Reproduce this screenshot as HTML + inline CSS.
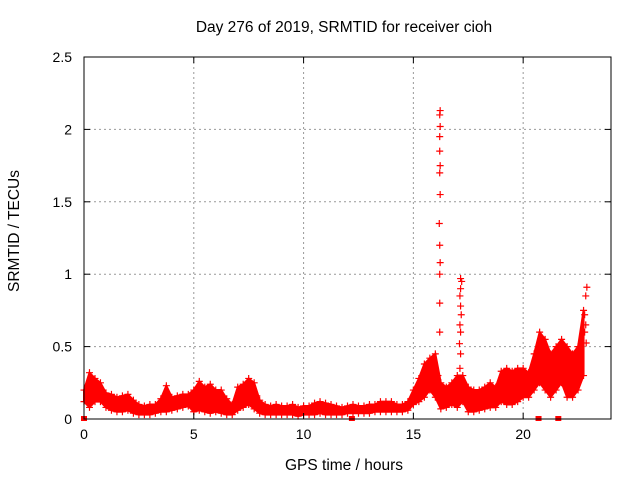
<!DOCTYPE html>
<html><head><meta charset="utf-8"><style>
body{margin:0;background:#fff}
svg{display:block;font-family:"Liberation Sans",sans-serif}
</style></head><body>
<svg id="c" width="640" height="480" viewBox="0 0 640 480">
<text x="344" y="32" font-size="15.5" text-anchor="middle">Day 276 of 2019, SRMTID for receiver cioh</text>
<text x="344" y="470" font-size="15.5" text-anchor="middle">GPS time / hours</text>
<text transform="translate(19,231) rotate(-90)" font-size="15.5" text-anchor="middle">SRMTID / TECUs</text>
<g id="grid"></g><g id="marks"></g><g id="axes"></g>
</svg>
<script>
const hourStart = 0, hourStep = 0.25;
const lo = [0.12,0.08,0.12,0.12,0.08,0.06,0.05,0.05,0.06,0.04,0.03,0.03,0.03,0.04,0.05,0.05,0.06,0.07,0.08,0.09,0.05,0.06,0.05,0.04,0.05,0.04,0.03,0.03,0.06,0.08,0.1,0.07,0.04,0.03,0.03,0.03,0.03,0.03,0.03,0.02,0.03,0.03,0.03,0.04,0.03,0.03,0.03,0.03,0.04,0.04,0.04,0.04,0.04,0.05,0.05,0.05,0.05,0.05,0.05,0.06,0.1,0.12,0.15,0.2,0.15,0.07,0.08,0.1,0.08,0.12,0.05,0.05,0.06,0.07,0.08,0.08,0.12,0.1,0.1,0.12,0.15,0.15,0.2,0.25,0.2,0.15,0.2,0.25,0.15,0.15,0.2,0.3];
const hi = [0.2,0.32,0.28,0.25,0.18,0.17,0.15,0.16,0.17,0.13,0.1,0.09,0.1,0.1,0.14,0.23,0.15,0.16,0.17,0.17,0.2,0.26,0.22,0.24,0.2,0.2,0.14,0.1,0.22,0.24,0.28,0.25,0.13,0.1,0.09,0.1,0.09,0.09,0.1,0.08,0.09,0.09,0.11,0.12,0.11,0.1,0.09,0.08,0.09,0.1,0.09,0.09,0.1,0.1,0.12,0.12,0.12,0.1,0.1,0.12,0.2,0.28,0.38,0.42,0.45,0.25,0.22,0.25,0.3,0.3,0.22,0.2,0.2,0.22,0.25,0.22,0.33,0.35,0.33,0.35,0.35,0.32,0.45,0.6,0.55,0.45,0.5,0.55,0.5,0.45,0.5,0.75];
const spikeX = [16.2,16.2,16.2,16.22,16.2,16.18,16.22,16.2,16.22,16.2,16.2,16.22,16.2,16.22,17.12,17.15,17.1,17.15,17.12,17.18,17.15,17.12,17.15,17.2,17.15,22.8,22.85,22.8,22.85,22.9];
const spikeY = [0.6,0.8,1.0,1.08,1.2,1.35,1.55,1.7,1.75,1.85,1.95,2.02,2.1,2.13,0.35,0.45,0.52,0.6,0.65,0.72,0.78,0.85,0.9,0.95,0.97,0.6,0.65,0.72,0.85,0.91];
const zeroX = [0,12.2,20.7,21.6];
const xTicks = [0,5,10,15,20];
const yTicks = [0,0.5,1,1.5,2,2.5];
const yTickLabels = ["0","0.5","1","1.5","2","2.5"];

const L=84,R=611,T=57,B=419;
const sx=h=>L+h*(R-L)/24, sy=v=>B-v*(B-T)/2.5;
const NS="http://www.w3.org/2000/svg";
function mk(tag,parent,attrs){const e=document.createElementNS(NS,tag);for(const k in attrs)e.setAttribute(k,attrs[k]);parent.appendChild(e);return e;}
const grid=document.getElementById('grid'),marks=document.getElementById('marks'),axes=document.getElementById('axes');
xTicks.forEach(t=>{if(t>0){const g=mk('line',grid,{x1:sx(t),x2:sx(t),y1:T,y2:B,stroke:'#999','stroke-dasharray':'2,3'});

}
mk('line',axes,{x1:sx(t),x2:sx(t),y1:B,y2:B-6,stroke:'#000'});
mk('line',axes,{x1:sx(t),x2:sx(t),y1:T,y2:T+6,stroke:'#000'});
const tx=mk('text',axes,{x:sx(t),y:B+20,'font-size':14,'text-anchor':'middle'});tx.textContent=t;

});
yTicks.forEach((t,i)=>{if(t>0&&t<2.5){const g=mk('line',grid,{x1:L,x2:R,y1:sy(t),y2:sy(t),stroke:'#999','stroke-dasharray':'2,3'});

}
mk('line',axes,{x1:L,x2:L+6,y1:sy(t),y2:sy(t),stroke:'#000'});
mk('line',axes,{x1:R,x2:R-6,y1:sy(t),y2:sy(t),stroke:'#000'});
const tx=mk('text',axes,{x:L-12,y:sy(t)+5,'font-size':14,'text-anchor':'end'});tx.textContent=yTickLabels[i];

});
const frame=mk('rect',axes,{x:L,y:T,width:R-L,height:B-T,fill:'none',stroke:'#000'});


function plus(x,y,col){const p=mk('path',marks,{d:`M${x-3.5},${y}h7M${x},${y-3.5}v7`,stroke:col,'stroke-width':1.2});

}
let up='',dn='';
lo.forEach((v,i)=>{const h=hourStart+i*hourStep;up+=(i?'L':'M')+sx(h)+','+sy(hi[i]);});
for(let i=lo.length-1;i>=0;i--){const h=hourStart+i*hourStep;dn+='L'+sx(h)+','+sy(lo[i]);}
const band=mk('path',marks,{d:up+dn+'Z',fill:'#f00',stroke:'#f00','stroke-width':2});


lo.forEach((v,i)=>{const h=hourStart+i*hourStep;plus(sx(h),sy(v),'#f00');plus(sx(h),sy(hi[i]),'#f00');plus(sx(h+0.12),sy((v+hi[i])/2),'#f00');});
spikeX.forEach((h,i)=>plus(sx(h),sy(spikeY[i]),'#f00'));
zeroX.forEach(h=>{const r=mk('rect',marks,{x:sx(h)-3,y:B-3,width:6,height:5,fill:'#f00'});

});
</script>
</body></html>
